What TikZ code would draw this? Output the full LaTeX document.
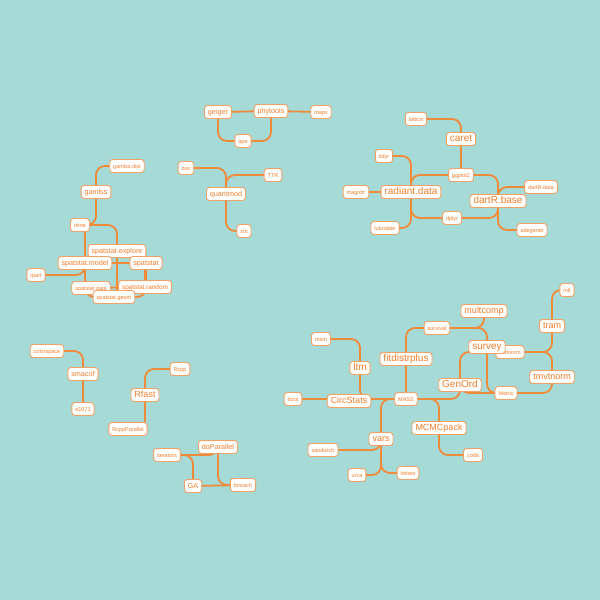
\documentclass[tikz,border=0pt]{standalone}
\usepackage{fontspec}
\setmainfont{Liberation Sans}
\definecolor{bgteal}{HTML}{A6DAD6}
\definecolor{edgeorange}{HTML}{F08A38}
\definecolor{pkgline}{HTML}{F2A064}
\definecolor{pkgtext}{HTML}{EE7E2C}
\pgfdeclarelayer{edges}
\pgfsetlayers{edges,main}
\begin{document}
\begin{tikzpicture}[x=1pt,y=-1pt,
  pkg/.style={draw=pkgline, fill=white, text=pkgtext, rounded corners=3pt, line width=0.9pt,
    text height=0.72em, text depth=0.22em, inner xsep=0.35em, inner ysep=0.18em},
  pkgS/.style={pkg, font=\fontsize{5.5}{6}\selectfont},
  pkgSM/.style={pkg, font=\fontsize{6.4}{7}\selectfont},
  pkgM/.style={pkg, font=\fontsize{7.2}{8}\selectfont},
  pkgL/.style={pkg, font=\fontsize{9}{10}\selectfont},
  pkgXL/.style={pkg, font=\fontsize{10}{11}\selectfont},
  link/.style={draw=edgeorange, line width=1.8pt, rounded corners=9pt}]
\useasboundingbox (0,0) rectangle (600,600);
\node[pkgM] (geiger) at (218,112){geiger};
\node[pkgM] (phytools) at (271,111){phytools};
\node[pkgS] (maps) at (321,112){maps};
\node[pkgS] (ape) at (243,141){ape};
\node[pkgS] (zoo) at (186,168){zoo};
\node[pkgS] (TTR) at (273,175){TTR};
\node[pkgM] (quantmod) at (226,194){quantmod};
\node[pkgS] (xts) at (244,231){xts};
\node[pkgS] (gamlssdist) at (127,166){gamlss.dist};
\node[pkgM] (gamlss) at (96,192){gamlss};
\node[pkgS] (nlme) at (80,225){nlme};
\node[pkgM] (spatstatexplore) at (117,251){spatstat.explore};
\node[pkgM] (spatstatmodel) at (85,263){spatstat.model};
\node[pkgM] (spatstat) at (146,263){spatstat};
\node[pkgS] (rpart) at (36,275){rpart};
\node[pkgS] (spatstatdata) at (91,288){spatstat.data};
\node[pkgSM] (spatstatrandom) at (145,287){spatstat.random};
\node[pkgS] (spatstatgeom) at (114,297){spatstat.geom};
\node[pkgS] (lattice) at (416,119){lattice};
\node[pkgXL] (caret) at (461,139){caret};
\node[pkgS] (tidyr) at (384,156){tidyr};
\node[pkgS] (ggplot2) at (461,175){ggplot2};
\node[pkgS] (magrittr) at (356,192){magrittr};
\node[pkgXL] (radiantdata) at (411,192){radiant.data};
\node[pkgS] (dartRdata) at (541,187){dartR.data};
\node[pkgXL] (dartRbase) at (498,201){dartR.base};
\node[pkgS] (dplyr) at (452,218){dplyr};
\node[pkgS] (lubridate) at (385,228){lubridate};
\node[pkgS] (adegenet) at (532,230){adegenet};
\node[pkgS] (mlt) at (567,290){mlt};
\node[pkgL] (multcomp) at (484,311){multcomp};
\node[pkgS] (survival) at (437,328){survival};
\node[pkgL] (tram) at (552,326){tram};
\node[pkgS] (msm) at (321,339){msm};
\node[pkgS] (mvtnorm) at (510,352){mvtnorm};
\node[pkgXL] (survey) at (487,347){survey};
\node[pkgXL] (fitdistrplus) at (406,359){fitdistrplus};
\node[pkgXL] (ltm) at (360,368){ltm};
\node[pkgL] (tmvtnorm) at (552,377){tmvtnorm};
\node[pkgXL] (GenOrd) at (460,385){GenOrd};
\node[pkgS] (Matrix) at (506,393){Matrix};
\node[pkgS] (boot) at (293,399){boot};
\node[pkgL] (CircStats) at (349,401){CircStats};
\node[pkgS] (MASS) at (406,399){MASS};
\node[pkgL] (MCMCpack) at (439,428){MCMCpack};
\node[pkgL] (vars) at (381,439){vars};
\node[pkgS] (sandwich) at (323,450){sandwich};
\node[pkgS] (coda) at (473,455){coda};
\node[pkgS] (urca) at (357,475){urca};
\node[pkgS] (lmtest) at (408,473){lmtest};
\node[pkgS] (colorspace) at (47,351){colorspace};
\node[pkgM] (smacof) at (83,374){smacof};
\node[pkgS] (e1071) at (83,409){e1071};
\node[pkgS] (Rcpp) at (180,369){Rcpp};
\node[pkgL] (Rfast) at (145,395){Rfast};
\node[pkgS] (RcppParallel) at (128,429){RcppParallel};
\node[pkgM] (doParallel) at (218,447){doParallel};
\node[pkgS] (iterators) at (167,455){iterators};
\node[pkgM] (GA) at (193,486){GA};
\node[pkgS] (foreach) at (243,485){foreach};
\begin{pgfonlayer}{edges}
\fill[bgteal] (0,0) rectangle (600,600);
\draw[link] (geiger.center) -- (phytools.center) -- (maps.center);
\draw[link] (geiger.center) |- (ape.center);
\draw[link] (phytools.center) |- (ape.center);
\draw[link] (zoo.center) -| (quantmod.center);
\draw[link] (TTR.center) -| (quantmod.center);
\draw[link] (quantmod.center) |- (xts.center);
\draw[link] (gamlssdist.center) -| (gamlss.center);
\draw[link] (gamlss.center) |- (nlme.center);
\draw[link] (nlme.center) -| (spatstatexplore.center);
\draw[link] (nlme.center) -| (spatstatmodel.center);
\draw[link] (rpart.center) -| (spatstatmodel.center);
\draw[link] (spatstatmodel.center) -- (spatstat.center);
\draw[link] (spatstatmodel.center) |- (spatstatdata.center);
\draw[link] (spatstatmodel.center) |- (spatstatgeom.center);
\draw[link] (spatstatexplore.center) -| (spatstatrandom.center);
\draw[link] (spatstatexplore.center) |- (spatstatgeom.center);
\draw[link] (spatstat.center) |- (spatstatrandom.center);
\draw[link] (spatstat.center) |- (spatstatgeom.center);
\draw[link] (spatstatdata.center) -- (spatstatrandom.center);
\draw[link] (spatstatdata.center) |- (spatstatgeom.center);
\draw[link] (lattice.center) -| (caret.center);
\draw[link] (caret.center) -- (ggplot2.center);
\draw[link] (ggplot2.center) -| (radiantdata.center);
\draw[link] (ggplot2.center) -| (dartRbase.center);
\draw[link] (tidyr.center) -| (radiantdata.center);
\draw[link] (magrittr.center) -- (radiantdata.center);
\draw[link] (lubridate.center) -| (radiantdata.center);
\draw[link] (radiantdata.center) |- (dplyr.center);
\draw[link] (dplyr.center) -| (dartRbase.center);
\draw[link] (dartRdata.center) -| (dartRbase.center);
\draw[link] (adegenet.center) -| (dartRbase.center);
\draw[link] (mlt.center) -| (tram.center);
\draw[link] (tram.center) |- (mvtnorm.center);
\draw[link] (mvtnorm.center) -| (tmvtnorm.center);
\draw[link] (tmvtnorm.center) |- (Matrix.center);
\draw[link] (survey.center) |- (Matrix.center);
\draw[link] (GenOrd.center) |- (Matrix.center);
\draw[link] (GenOrd.center) |- (MASS.center);
\draw[link] (GenOrd.center) |- (mvtnorm.center);
\draw[link] (multcomp.center) |- (survival.center);
\draw[link] (survival.center) -| (survey.center);
\draw[link] (survival.center) -| (fitdistrplus.center);
\draw[link] (fitdistrplus.center) -- (MASS.center);
\draw[link] (msm.center) -| (ltm.center);
\draw[link] (ltm.center) |- (MASS.center);
\draw[link] (boot.center) -- (CircStats.center |- boot.center) -- (MASS.center);
\draw[link] (MASS.center) -| (vars.center);
\draw[link] (MASS.center) -| (MCMCpack.center);
\draw[link] (vars.center) |- (sandwich.center);
\draw[link] (vars.center) |- (urca.center);
\draw[link] (vars.center) |- (lmtest.center);
\draw[link] (MCMCpack.center) |- (coda.center);
\draw[link] (colorspace.center) -| (smacof.center);
\draw[link] (smacof.center) -- (e1071.center);
\draw[link] (Rcpp.center) -| (Rfast.center);
\draw[link] (Rfast.center) |- (RcppParallel.center);
\draw[link] (iterators.center) -| (doParallel.center);
\draw[link] (iterators.center) -| (GA.center);
\draw[link] (doParallel.center) |- (foreach.center);
\draw[link] (GA.center) -- (foreach.center);
\end{pgfonlayer}
\end{tikzpicture}
\end{document}
